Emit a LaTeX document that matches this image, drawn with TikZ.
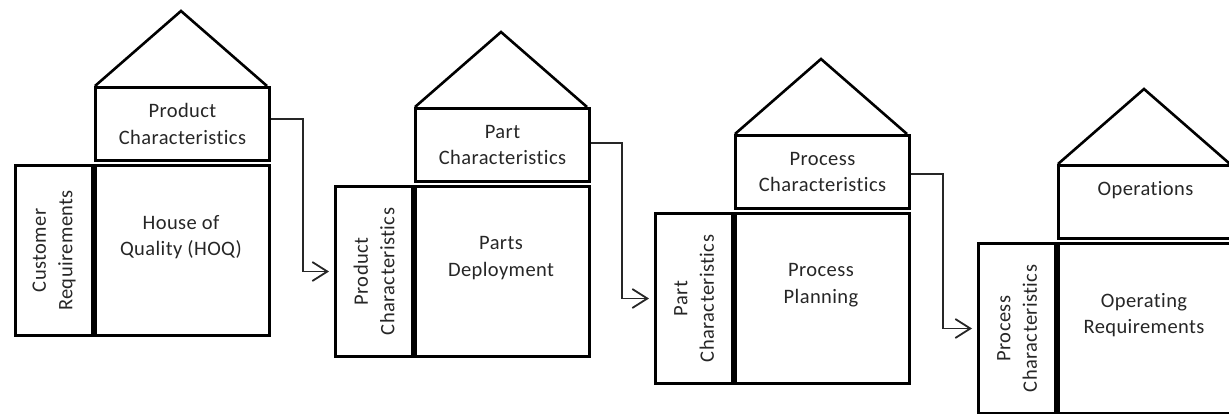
\documentclass[tikz,border=0pt]{standalone}
\usepackage{fontspec}
\setmainfont{Carlito}[Ligatures={NoCommon}, LetterSpace=2]
\usetikzlibrary{arrows.meta}

% One house: #1 id, #2/#3 top-left corner of the main box,
% #4 roof-box text, #5 left-wall text, #6 main text
\newcommand\qfdHouse[6]{%
  \node[box, minimum width=174pt, minimum height=73pt] (t#1) at (#2,#3-78) {#4};
  \node[box, minimum width=174pt, minimum height=170pt] (m#1) at (#2,#3) {};
  \node[box, minimum width=77pt, minimum height=170pt] (l#1) at (#2-80,#3) {};
  \node[label] (lt#1) at (l#1.center) {#5};
  \node[txt] (mt#1) at (#2+87,#3+73) {#6};
  \draw[roof] (#2+1,#3-78) -- (#2+87,#3-153) -- (#2+173,#3-78);
}

\begin{document}
\begin{tikzpicture}[x=1pt, y=-1pt,
  box/.style={draw, line width=3pt, inner sep=0pt, anchor=north west,
              align=center, font=\qfdfont, text=black!85},
  label/.style={rotate=90, align=center, font=\qfdfont, text=black!85},
  txt/.style={align=center, font=\qfdfont, text=black!85},
  roof/.style={line width=2.6pt, line join=miter},
  flow/.style={line width=1.8pt, draw=black!85,
               -{Straight Barb[length=15pt, width=19pt]}, shorten >=5pt}]
\providecommand\qfdfont{\fontsize{20.5}{26.5}\selectfont}
\useasboundingbox (0,0) rectangle (1229,413);
\clip (0,0) rectangle (1229,413);

\qfdHouse{1}{94}{164}{Product\\Characteristics}{Customer\\Requirements}{House of\\Quality (HOQ)}
\qfdHouse{2}{414}{185}{Part\\Characteristics}{Product\\Characteristics}{Parts\\Deployment}
\qfdHouse{3}{734}{212}{Process\\Characteristics}{Part\\Characteristics}{Process\\Planning}
\qfdHouse{4}{1057}{242}{Operations\\\mbox{}}{Process\\Characteristics}{Operating\\Requirements}

\draw[flow] ([yshift=5pt]t1.east) -- ++(32,0) |- (l2.west);
\draw[flow] ([yshift=2pt]t2.east) -- ++(31,0) |- (l3.west);
\draw[flow] ([yshift=-2pt]t3.east) -- ++(32,0) |- (l4.west);
\end{tikzpicture}
\end{document}
